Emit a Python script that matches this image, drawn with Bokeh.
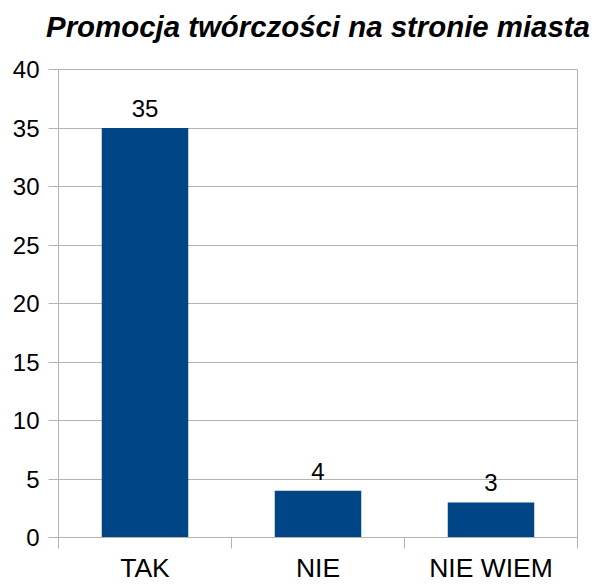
from bokeh.plotting import figure
from bokeh.models import Range1d, FixedTicker, ColumnDataSource, LabelSet, LinearAxis
from bokeh.embed import file_html
from bokeh.resources import INLINE
from bokeh.core.properties import value

title = "Promocja twórczości na stronie miasta"
categories = ["TAK", "NIE", "NIE WIEM"]
counts = [35, 4, 3]
y_ticks = [0, 5, 10, 15, 20, 25, 30, 35, 40]

FONT = "Liberation Sans"
GRAY = "#b3b3b3"
BAR = "#004586"

centers = [i + 0.5 for i in range(len(categories))]
src = ColumnDataSource(dict(x=centers, y=counts, lab=[str(c) for c in counts]))

p = figure(width=603, height=585, output_backend="svg", toolbar_location=None, title=None,
           x_range=Range1d(0, len(categories)), y_range=Range1d(0, 40),
           min_border_left=58, min_border_right=26, min_border_top=69, min_border_bottom=45)
p.background_fill_color = "white"
p.border_fill_color = "white"
p.outline_line_color = GRAY

# chart title, carried by an otherwise invisible axis above the frame
top_axis = LinearAxis(ticker=FixedTicker(ticks=[]), axis_line_color=None,
                      major_tick_line_color=None, minor_tick_line_color=None,
                      major_tick_in=0, major_tick_out=0, minor_tick_in=0, minor_tick_out=0,
                      major_label_standoff=0,
                      axis_label=title, axis_label_standoff=27,
                      axis_label_text_font=FONT, axis_label_text_font_size="29.4px",
                      axis_label_text_font_style="bold italic", axis_label_text_color="black")
try:
    top_axis.axis_label_align = "left"
except Exception:
    pass
p.add_layout(top_axis, "above")

p.vbar(x="x", top="y", width=0.5, bottom=0, source=src, fill_color=BAR, line_color=None)

p.add_layout(LabelSet(x="x", y="y", text="lab", source=src, text_align="center",
                      text_baseline="alphabetic", y_offset=11, text_font=value(FONT),
                      text_font_size=value("24px"), text_color="black"))

# y axis
p.yaxis.ticker = FixedTicker(ticks=y_ticks, minor_ticks=[])
p.yaxis.axis_line_color = GRAY
p.yaxis.major_tick_line_color = GRAY
p.yaxis.major_tick_in = 0
p.yaxis.major_tick_out = 10
p.yaxis.minor_tick_line_color = None
p.yaxis.major_label_standoff = 9
p.yaxis.major_label_text_font = FONT
p.yaxis.major_label_text_font_size = "24px"
p.yaxis.major_label_text_color = "black"

# x axis: ticks at category boundaries (minor), names at centers (major)
xax = p.below[0]
xax.ticker = FixedTicker(ticks=centers, minor_ticks=list(range(len(categories) + 1)))
xax.major_label_overrides = {c: lab for c, lab in zip(centers, categories)}
xax.axis_line_color = GRAY
xax.major_tick_line_color = None
xax.major_tick_in = 0
xax.major_tick_out = 0
xax.minor_tick_line_color = GRAY
xax.minor_tick_in = 0
xax.minor_tick_out = 11
xax.major_label_standoff = 4
xax.major_label_text_font = FONT
xax.major_label_text_font_size = "26.5px"
xax.major_label_text_color = "black"

p.xgrid.grid_line_color = None
p.ygrid.ticker = FixedTicker(ticks=y_ticks)
p.ygrid.grid_line_color = GRAY

open("out.html", "w").write(file_html(p, INLINE))
